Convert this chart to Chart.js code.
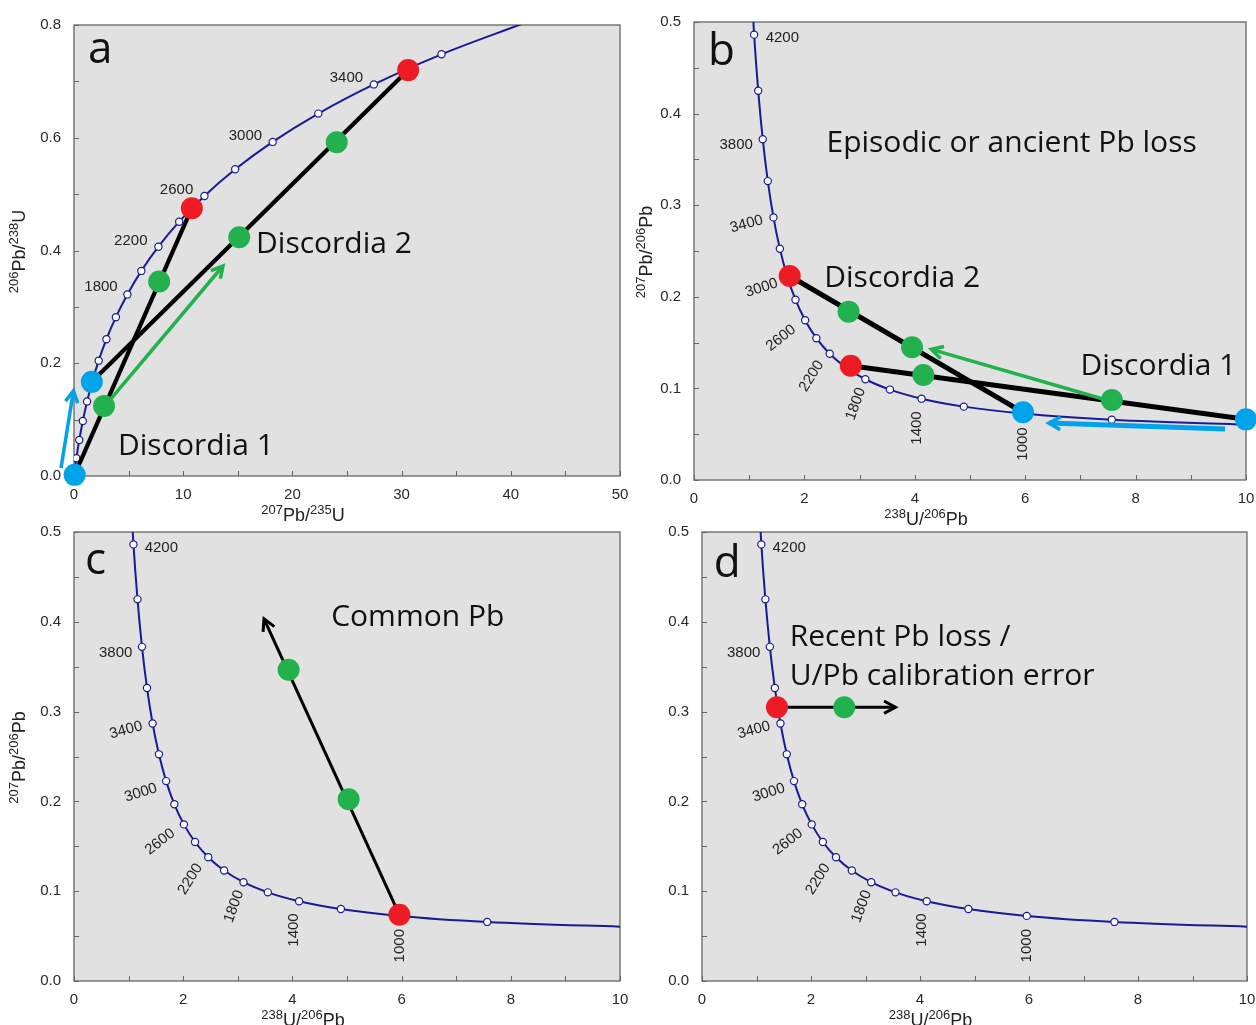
<!DOCTYPE html>
<html>
<head>
<meta charset="utf-8">
<script src="https://cdn.jsdelivr.net/npm/chart.js@4.4.1/dist/chart.umd.min.js"></script>
<style>
  body { margin: 0; background: #fff; width: 1256px; height: 1025px; overflow: hidden; position: relative; }
  .panel { position: absolute; }
</style>
</head>
<body>
<div class="panel" style="left:0;top:0;width:639px;height:528px"><canvas id="ca"></canvas></div>
<div class="panel" style="left:630px;top:0;width:635px;height:528px"><canvas id="cb"></canvas></div>
<div class="panel" style="left:0;top:510px;width:639px;height:515px"><canvas id="cc"></canvas></div>
<div class="panel" style="left:630px;top:510px;width:636px;height:515px"><canvas id="cd"></canvas></div>
<script>
// Wetherill concordia (panel a): 207Pb/235U vs 206Pb/238U, ages in Ma
const wAges = [0, 200, 400, 600, 800, 1000, 1200, 1400, 1600, 1800, 2000, 2200, 2400, 2600, 2800, 3000, 3200, 3400, 3600, 3800];
const wX = [0, 0.2177, 0.4828, 0.8056, 1.1987, 1.6774, 2.2603, 2.9701, 3.8344, 4.8869, 6.1685, 7.7291, 9.6297, 11.944, 14.762, 18.193, 22.371, 27.460, 33.656, 41.200];
const wY = [0, 0.0315, 0.0640, 0.0975, 0.1321, 0.1678, 0.2046, 0.2426, 0.2817, 0.3221, 0.3638, 0.4067, 0.4511, 0.4968, 0.5440, 0.5926, 0.6428, 0.6946, 0.7480, 0.8031];

// Tera-Wasserburg concordia (panels b, c, d): 238U/206Pb vs 207Pb/206Pb
const twAges = [4400, 4200, 4000, 3800, 3600, 3400, 3200, 3000, 2800, 2600, 2400, 2200, 2000, 1800, 1600, 1400, 1200, 1000, 800, 600];
const twX = [1.0215, 1.0888, 1.1630, 1.2452, 1.3369, 1.4397, 1.5556, 1.6874, 1.8383, 2.0130, 2.2170, 2.4586, 2.7490, 3.1045, 3.5496, 4.1225, 4.8877, 5.9590, 7.5681, 10.2518];
const twY = [0.5571, 0.4862, 0.4250, 0.3721, 0.3263, 0.2867, 0.2524, 0.2226, 0.1968, 0.1744, 0.1548, 0.1378, 0.1230, 0.1100, 0.0987, 0.0888, 0.0801, 0.0725, 0.0658, 0.0599];

// age labels along the curves
const wLabels = ['1800', '2200', '2600', '3000', '3400'];
const wLabelX = [2.47, 5.20, 9.39, 15.70, 24.95];
const wLabelY = [0.3347, 0.4174, 0.5073, 0.6031, 0.7059];
const twLabels = ['4200', '3800', '3400', '3000', '2600', '2200', '1800', '1400', '1000'];
const twLabelX = [1.60, 0.764, 0.953, 1.225, 1.576, 2.13, 2.93, 4.03, 5.96];
const twLabelY = [0.4825, 0.3657, 0.2794, 0.2096, 0.1550, 0.1135, 0.0830, 0.0568, 0.0393];
const twLabelRot = [0, 0, -15, -18, -38, -58, -70, -90, -90];

// analyses (kind: red = concordant, green = discordant, blue = lower intercept)
const aDotX = [0.06, 1.63, 2.75, 7.8, 15.13, 24.06, 10.79, 30.6];
const aDotY = [0.002, 0.167, 0.124, 0.345, 0.4234, 0.592, 0.475, 0.720];
const aDotKind = ['blue', 'blue', 'green', 'green', 'green', 'green', 'red', 'red'];
const bDotX = [1.734, 2.84, 2.80, 3.95, 4.155, 7.57, 5.96, 10.0];
const bDotY = [0.2227, 0.1248, 0.1838, 0.1449, 0.1146, 0.0873, 0.0739, 0.0662];
const bDotKind = ['red', 'red', 'green', 'green', 'green', 'green', 'blue', 'blue'];
const cDotX = [3.93, 5.03, 5.96];
const cDotY = [0.3465, 0.2023, 0.0737];
const cDotKind = ['green', 'green', 'red'];
const dDotX = [1.375, 2.61];
const dDotY = [0.3049, 0.3049];
const dDotKind = ['red', 'green'];

// discordia lines [x0, y0, x1, y1]
const aDiscordia = [[0, 0, 10.79, 0.475], [1.63, 0.167, 30.6, 0.720]];
const bDiscordia = [[1.734, 0.2227, 5.96, 0.0739], [2.84, 0.1248, 10.0, 0.0662]];

// arrows [x0, y0, x1, y1, kind]
const aArrows = [[-1.19, 0.0142, -0.05, 0.151, 'blue'], [3.3, 0.135, 13.64, 0.3725, 'green']];
const bArrows = [[7.41, 0.0884, 4.30, 0.1426, 'green'], [9.62, 0.0557, 6.43, 0.0622, 'blue']];
const cArrows = [[5.96, 0.0737, 3.48, 0.4033, 'black']];
const dArrows = [[1.375, 0.3049, 3.55, 0.3049, 'black']];

// annotations [text, x, baseline y, kind]
const aNotes = [['a', 1.28, 0.7326, 'letter'], ['Discordia 2', 16.67, 0.3956, 'note'], ['Discordia 1', 4.03, 0.0372, 'note']];
const bNotes = [['b', 0.254, 0.453, 'letter'], ['Episodic or ancient Pb loss', 2.40, 0.3584, 'note'], ['Discordia 2', 2.36, 0.211, 'note'], ['Discordia 1', 7.0, 0.1146, 'note']];
const cNotes = [['c', 0.2, 0.4527, 'letter'], ['Common Pb', 4.71, 0.3954, 'note']];
const dNotes = [['d', 0.216, 0.450, 'letter'], ['Recent Pb loss /', 1.61, 0.3733, 'note'], ['U/Pb calibration error', 1.61, 0.330, 'note']];

const COL = { red: '#ed1c24', green: '#22b14c', blue: '#00a2e8', black: '#000', navy: '#1a1a96' };
const SANS = '"Liberation Sans", Arial, sans-serif';
const NOTE = '"Open Sans", "Noto Sans", sans-serif';

const pts = (xs, ys) => xs.map((x, i) => ({ x: x, y: ys[i] }));

function richText(ctx, parts, x, y, rot) {
  const big = '18px ' + SANS, small = '13px ' + SANS;
  let w = 0;
  const widths = parts.map(p => { ctx.font = p[1] ? small : big; const m = ctx.measureText(p[0]).width; w += m; return m; });
  ctx.save();
  ctx.translate(x, y);
  ctx.rotate(rot);
  ctx.fillStyle = '#222';
  ctx.textAlign = 'left';
  ctx.textBaseline = 'alphabetic';
  let cx = -w / 2;
  parts.forEach((p, i) => {
    ctx.font = p[1] ? small : big;
    ctx.fillText(p[0], cx, p[1] ? -7 : 0);
    cx += widths[i];
  });
  ctx.restore();
}

function panelPlugin(p) {
  return {
    id: 'panel',
    beforeDraw(chart) {
      const a = chart.chartArea, ctx = chart.ctx;
      ctx.save();
      ctx.fillStyle = '#e1e1e1';
      ctx.fillRect(a.left, a.top, a.right - a.left, a.bottom - a.top);
      ctx.restore();
    },
    beforeDatasetsDraw(chart) {
      const a = chart.chartArea, ctx = chart.ctx, sx = chart.scales.x, sy = chart.scales.y;
      ctx.save();
      ctx.strokeStyle = '#666';
      ctx.lineWidth = 1.3;
      ctx.strokeRect(a.left, a.top, a.right - a.left, a.bottom - a.top);
      ctx.lineWidth = 1;
      ctx.beginPath();
      for (let v = sx.min; v <= sx.max + 1e-9; v += p.xMinor) {
        const px = Math.round(sx.getPixelForValue(v)) + 0.5;
        ctx.moveTo(px, a.bottom); ctx.lineTo(px, a.bottom - 5);
      }
      for (let v = sy.min; v <= sy.max + 1e-9; v += p.yMinor) {
        const py = Math.round(sy.getPixelForValue(v)) + 0.5;
        ctx.moveTo(a.left, py); ctx.lineTo(a.left + 5, py);
      }
      ctx.stroke();
      // age labels
      ctx.fillStyle = '#222';
      ctx.font = '15px ' + SANS;
      ctx.textAlign = 'center';
      ctx.textBaseline = 'middle';
      p.labels.forEach((t, i) => {
        ctx.save();
        ctx.translate(sx.getPixelForValue(p.labelX[i]), sy.getPixelForValue(p.labelY[i]));
        ctx.rotate((p.labelRot ? p.labelRot[i] : 0) * Math.PI / 180);
        ctx.fillText(t, 0, 0);
        ctx.restore();
      });
      // annotations
      ctx.textAlign = 'left';
      ctx.textBaseline = 'alphabetic';
      ctx.fillStyle = '#111';
      p.notes.forEach(n => {
        ctx.font = (n[3] === 'letter' ? '44px ' : '30px ') + NOTE;
        ctx.fillText(n[0], sx.getPixelForValue(n[1]), sy.getPixelForValue(n[2]));
      });
      ctx.restore();
    },
    beforeDatasetDraw(chart, args) {
      if (args.index !== 0) return;
      const ctx = chart.ctx, sx = chart.scales.x, sy = chart.scales.y;
      ctx.save();
      p.arrows.forEach(ar => {
        const x0 = sx.getPixelForValue(ar[0]), y0 = sy.getPixelForValue(ar[1]);
        const x1 = sx.getPixelForValue(ar[2]), y1 = sy.getPixelForValue(ar[3]);
        const ang = Math.atan2(y1 - y0, x1 - x0);
        const w = ar[4] === 'black' ? 3 : (ar[4] === 'blue' && p.id === 'b' ? 5 : 3.5);
        const h = 13, spread = 0.5;
        ctx.strokeStyle = COL[ar[4]];
        ctx.lineWidth = w;
        ctx.lineCap = 'butt';
        ctx.lineJoin = 'miter';
        ctx.beginPath();
        ctx.moveTo(x0, y0); ctx.lineTo(x1, y1);
        ctx.stroke();
        ctx.lineWidth = Math.min(w, 3.5);
        ctx.beginPath();
        ctx.moveTo(x1 - h * Math.cos(ang - spread), y1 - h * Math.sin(ang - spread));
        ctx.lineTo(x1, y1);
        ctx.lineTo(x1 - h * Math.cos(ang + spread), y1 - h * Math.sin(ang + spread));
        ctx.stroke();
      });
      ctx.restore();
    },
    afterDraw(chart) {
      const a = chart.chartArea, ctx = chart.ctx;
      richText(ctx, p.xTitle, (a.left + a.right) / 2 - 44, a.bottom + 45, 0);
      if (p.yTitle) richText(ctx, p.yTitle, a.left - p.yTitleOff, (a.top + a.bottom) / 2 + 1, -Math.PI / 2);
    }
  };
}

function makeChart(id, p) {
  const datasets = [{
    data: pts(p.dotX, p.dotY),
    pointRadius: 11,
    pointHoverRadius: 11,
    pointBackgroundColor: p.dotKind.map(k => COL[k]),
    pointBorderWidth: 0,
    showLine: false,
    clip: false
  }];
  p.discordia.forEach(l => datasets.push({
    data: [{ x: l[0], y: l[1] }, { x: l[2], y: l[3] }],
    showLine: true, borderColor: '#000', borderWidth: p.lineW, pointRadius: 0
  }));
  datasets.push({
    data: pts(p.curveX, p.curveY),
    showLine: true,
    borderColor: COL.navy,
    borderWidth: 2,
    cubicInterpolationMode: 'monotone',
    pointRadius: p.curveX.map((v, i) => (i === 0 || i === p.curveX.length - 1) ? 0 : 3.6),
    pointBackgroundColor: '#fff',
    pointBorderColor: COL.navy,
    pointBorderWidth: 1.2
  });
  const tickFont = { family: SANS, size: 15 };
  return new Chart(document.getElementById(id), {
    type: 'scatter',
    data: { datasets: datasets },
    options: {
      responsive: true,
      maintainAspectRatio: false,
      animation: false,
      events: [],
      layout: { padding: p.pad },
      plugins: { legend: { display: false }, tooltip: { enabled: false } },
      scales: {
        x: {
          type: 'linear', min: p.xMin, max: p.xMax,
          grid: { display: false, drawTicks: false },
          border: { display: false },
          ticks: { stepSize: p.xStep, autoSkip: false, maxRotation: 0, padding: 10, color: '#2a2a2a', font: tickFont, callback: v => String(Math.round(v)) },
          afterFit: s => { s.height = 30; }
        },
        y: {
          type: 'linear', min: p.yMin, max: p.yMax,
          grid: { display: false, drawTicks: false },
          border: { display: false },
          ticks: { stepSize: p.yStep, autoSkip: false, padding: 13, color: '#2a2a2a', font: tickFont, callback: v => v.toFixed(1) },
          afterFit: s => { s.width = p.yw; }
        }
      }
    },
    plugins: [panelPlugin(p)]
  });
}

const titleWX = [['207', 1], ['Pb', 0], ['/', 0], ['235', 1], ['U', 0]];
const titleWY = [['206', 1], ['Pb', 0], ['/', 0], ['238', 1], ['U', 0]];
const titleTX = [['238', 1], ['U', 0], ['/', 0], ['206', 1], ['Pb', 0]];
const titleTY = [['207', 1], ['Pb', 0], ['/', 0], ['206', 1], ['Pb', 0]];

const tw = { curveX: twX, curveY: twY, labels: twLabels, labelX: twLabelX, labelY: twLabelY, labelRot: twLabelRot,
  xMin: 0, xMax: 10, xStep: 2, xMinor: 1, yMin: 0, yMax: 0.5, yStep: 0.1, yMinor: 0.05, xTitle: titleTX };

makeChart('ca', {
  id: 'a', curveX: wX, curveY: wY, labels: wLabels, labelX: wLabelX, labelY: wLabelY,
  xMin: 0, xMax: 50, xStep: 10, xMinor: 5, yMin: 0, yMax: 0.8, yStep: 0.2, yMinor: 0.1,
  dotX: aDotX, dotY: aDotY, dotKind: aDotKind, discordia: aDiscordia, lineW: 4.2, arrows: aArrows, notes: aNotes,
  xTitle: titleWX, yTitle: titleWY, yTitleOff: 49,
  pad: { top: 25, right: 19, bottom: 22, left: 0 }, yw: 74
});
makeChart('cb', Object.assign({}, tw, {
  id: 'b', dotX: bDotX, dotY: bDotY, dotKind: bDotKind, discordia: bDiscordia, lineW: 5, arrows: bArrows, notes: bNotes,
  yTitle: titleTY, yTitleOff: 42,
  pad: { top: 22, right: 19, bottom: 18, left: 0 }, yw: 64
}));
makeChart('cc', Object.assign({}, tw, {
  id: 'c', dotX: cDotX, dotY: cDotY, dotKind: cDotKind, discordia: [], lineW: 3, arrows: cArrows, notes: cNotes,
  yTitle: titleTY, yTitleOff: 49,
  pad: { top: 20, right: 19, bottom: 14, left: 0 }, yw: 74
}));
makeChart('cd', Object.assign({}, tw, {
  id: 'd', dotX: dDotX, dotY: dDotY, dotKind: dDotKind, discordia: [], lineW: 3, arrows: dArrows, notes: dNotes,
  yTitle: null,
  pad: { top: 20, right: 19, bottom: 14, left: 0 }, yw: 72
}));
</script>
</body>
</html>
